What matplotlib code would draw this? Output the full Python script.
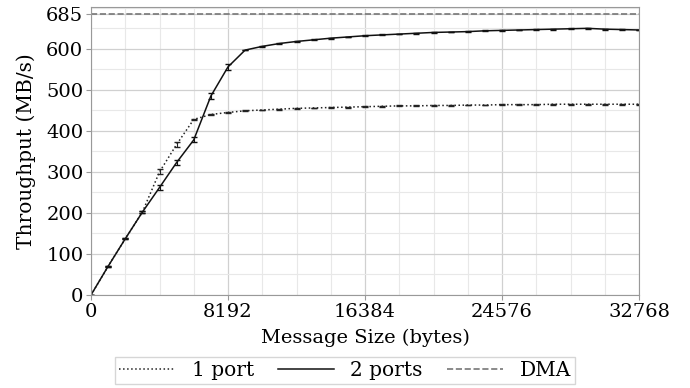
import matplotlib.pyplot as plt
from matplotlib.ticker import MultipleLocator

plt.rcParams['font.family'] = 'DejaVu Serif'

sizes = [i * 1024 for i in range(33)]

one_port = [0, 70, 137, 202, 300, 367, 428, 440, 445, 449, 451, 453, 455, 456, 457, 458,
            459, 460, 461, 461, 462, 462, 463, 463, 464, 464, 464, 465, 465, 465, 465, 465, 465]
one_port_err = [1, 1, 1, 2, 6, 6, 2, 1, 1, 1, 1, 1, 1, 1, 1, 1,
                1, 1, 1, 1, 1, 1, 1, 1, 1, 1, 1, 1, 1, 1, 1, 1, 1]

two_ports = [0, 70, 137, 202, 262, 323, 378, 485, 556, 597, 606, 613, 618, 622, 626, 629,
             632, 634, 636, 638, 640, 641, 642, 644, 645, 646, 647, 648, 649, 650, 648, 647, 646]
two_ports_err = [1, 1, 1, 2, 7, 7, 6, 8, 7, 1, 1, 1, 1, 1, 1, 1,
                 1, 1, 1, 1, 1, 1, 1, 1, 1, 1, 1, 1, 1, 1, 1, 1, 1]

dma = 685

fig = plt.figure(figsize=(6.9, 3.88), dpi=100)
ax = fig.add_axes([91 / 690, 1 - 295 / 388, 548 / 690, 288 / 388])

ax.errorbar(sizes, one_port, yerr=one_port_err, color='#222222', ls=':', lw=1.1,
            capsize=2.5, elinewidth=0.8, label='1 port')
ax.errorbar(sizes, two_ports, yerr=two_ports_err, color='#111111', ls='-', lw=1.1,
            capsize=2.5, elinewidth=0.8, label='2 ports')
ax.axhline(dma, color='#777777', ls='--', lw=1.2, label='DMA')

ax.set_xlim(0, 32768)
ax.set_ylim(0, 702)
ax.set_xticks([0, 8192, 16384, 24576, 32768])
ax.set_yticks([0, 100, 200, 300, 400, 500, 600, 685])
ax.xaxis.set_minor_locator(MultipleLocator(2048))
ax.yaxis.set_minor_locator(MultipleLocator(50))
ax.grid(which='major', color='#d0d0d0', lw=0.9)
ax.grid(which='minor', color='#e8e8e8', lw=0.8)
ax.set_axisbelow(True)
for s in ax.spines.values():
    s.set_color('#999999')
ax.tick_params(which='both', color='#999999', labelsize=14, pad=2)
ax.tick_params(which='minor', length=0)

ax.set_xlabel('Message Size (bytes)', fontsize=14, labelpad=6)
ax.set_ylabel('Throughput (MB/s)', fontsize=14.5, labelpad=7)

handles = [plt.Line2D([], [], color='#222222', ls=':', lw=1.1),
           plt.Line2D([], [], color='#111111', ls='-', lw=1.1),
           plt.Line2D([], [], color='#777777', ls='--', lw=1.2)]
leg = fig.legend(handles, ['1 port', '2 ports', 'DMA'], loc='upper center',
                 bbox_to_anchor=(0.5, 1 - 357 / 388), ncol=3, fontsize=14.5,
                 fancybox=False, handlelength=2.8, columnspacing=1.2,
                 borderpad=0.2, borderaxespad=0)
leg.get_frame().set_edgecolor('#cccccc')

fig.savefig('out.png', dpi=100)
